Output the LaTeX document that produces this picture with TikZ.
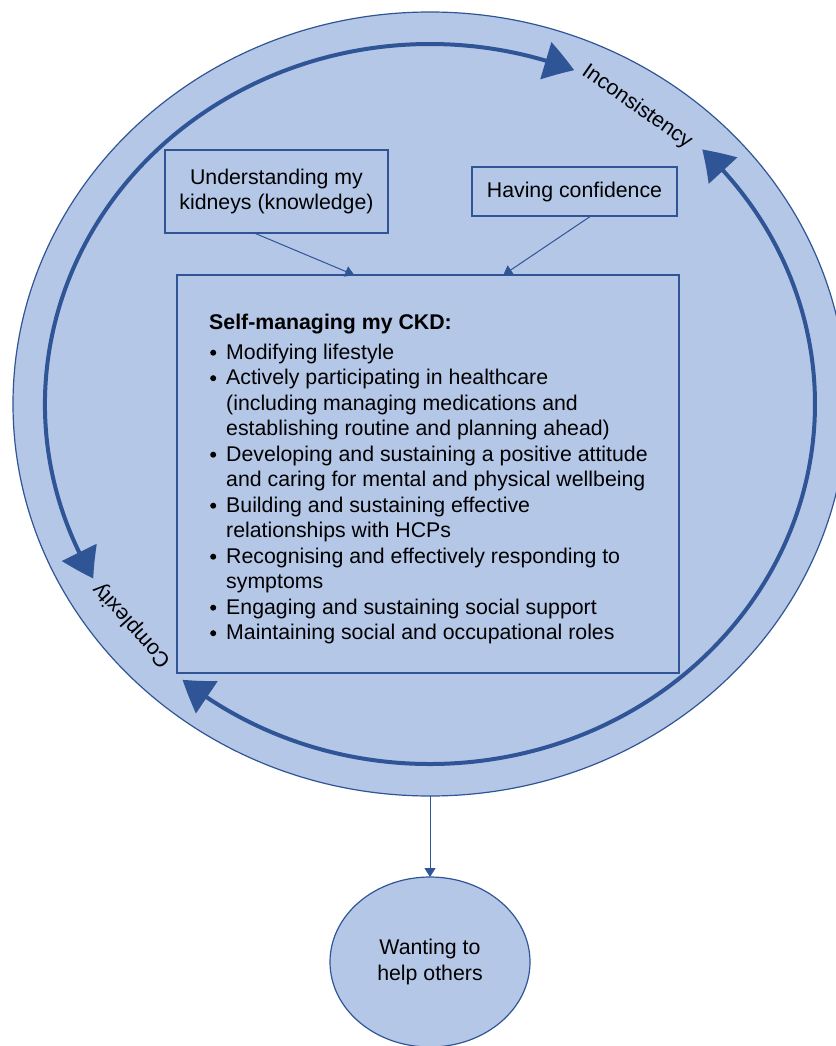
\documentclass[tikz,border=0pt]{standalone}
\usepackage{fontspec}
\setmainfont{Liberation Sans}
\usetikzlibrary{shapes.geometric,arrows.meta,bending,calc}
\definecolor{fillblue}{HTML}{B4C7E7}
\definecolor{lineblue}{HTML}{2F5597}
\newcommand\bulletdot{\tikz[baseline=-6.3pt]\fill[black] (0pt,0pt) circle[radius=3pt];}
\begin{document}
\begin{tikzpicture}[x=1pt,y=1pt,
  txt/.style={font=\fontsize{21.3}{25.5}\selectfont, text=black},
  box/.style={draw=lineblue, line width=1.2pt, fill=fillblue, inner sep=0pt, outer sep=0pt},
  link/.style={draw=lineblue, line width=1pt, -{Triangle[length=9pt,width=11pt]}},
  cyc/.style={draw=lineblue, line width=4pt,
    {Triangle[length=30pt,width=38pt,bend]}-{Triangle[length=30pt,width=38pt,bend]}},
]
\useasboundingbox (0,0) rectangle (835,-1046);
% outer ellipse
\node[box, ellipse, minimum width=834pt, minimum height=784pt] (outer) at (430,-404) {};
% cycle arcs
\draw[cyc] (outer.center) ++(209:385 and 360) arc[start angle=209, end angle=68, x radius=385, y radius=360];
\draw[cyc] (outer.center) ++(230:385 and 360) arc[start angle=230, end angle=405, x radius=385, y radius=360];
% rotated labels
\node[txt, rotate=-35] (inc) at (637,-107) {Inconsistency};
\node[txt, rotate=132] (comp) at (132,-625) {Complexity};
% upper boxes
\node[box, txt, minimum width=223pt, minimum height=83pt, align=center] (kid) at (276.5,-191.5)
  {Understanding my\\kidneys (knowledge)};
\node[box, txt, minimum width=205pt, minimum height=49pt, align=center] (conf) at (574.5,-191.5)
  {Having confidence};
% main box
\node[box, minimum width=502pt, minimum height=398pt] (main) at (428,-474) {};
\node[txt, anchor=base west, inner sep=0pt] (hdr) at (209,-329) {\bfseries Self-managing my CKD:};
\node[txt, anchor=base west, inner sep=0pt] (list) at (210,-359) {%
\begin{tabular}[t]{@{}l@{\hspace{10pt}}l@{}}
\bulletdot & Modifying lifestyle\\
\bulletdot & Actively participating in healthcare\\
  & (including managing medications and\\
  & establishing routine and planning ahead)\\
\bulletdot & Developing and sustaining a positive attitude\\
  & and caring for mental and physical wellbeing\\
\bulletdot & Building and sustaining effective\\
  & relationships with HCPs\\
\bulletdot & Recognising and effectively responding to\\
  & symptoms\\
\bulletdot & Engaging and sustaining social support\\
\bulletdot & Maintaining social and occupational roles
\end{tabular}};
% connectors into main box
\draw[link] ($(kid.south west)!0.4!(kid.south east)$) -- ($(main.north west)!0.353!(main.north east)$);
\draw[link] ($(conf.south west)!0.58!(conf.south east)$) -- ($(main.north west)!0.65!(main.north east)$);
% bottom circle
\node[box, ellipse, txt, minimum width=200pt, minimum height=170pt, align=center] (help) at (430,-962)
  {Wanting to\\help others};
\draw[link] (outer.south) -- (help.north);
\end{tikzpicture}
\end{document}
